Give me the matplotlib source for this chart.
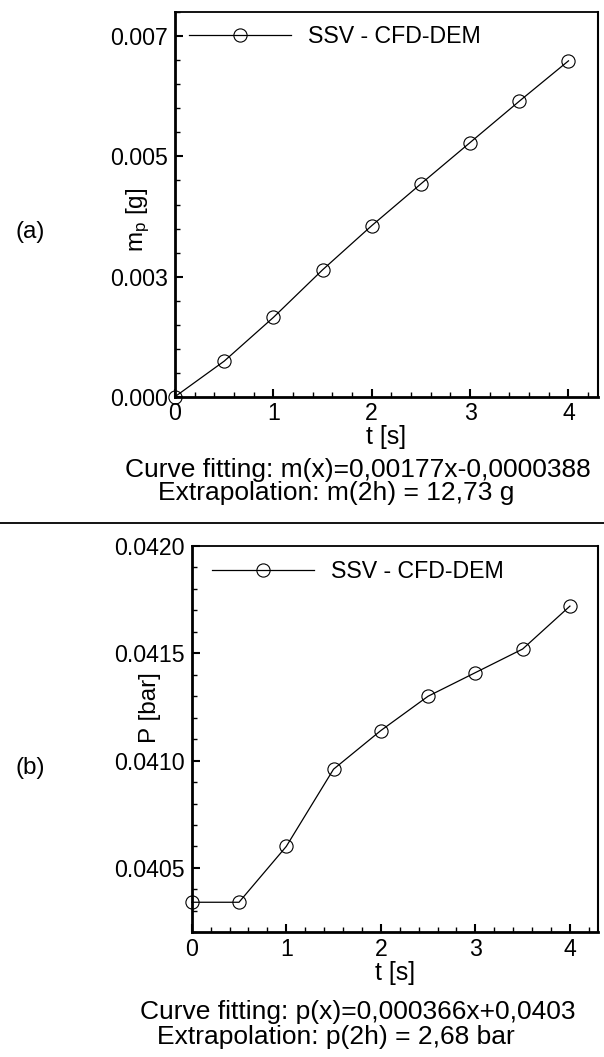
import numpy as np
import matplotlib
matplotlib.use("Agg")
import matplotlib.pyplot as plt
from matplotlib.ticker import MultipleLocator
from matplotlib.lines import Line2D

plt.rcParams['font.family'] = ['Liberation Sans', 'DejaVu Sans']
plt.rcParams['mathtext.default'] = 'regular'

# data
t = [0.0, 0.5, 1.0, 1.5, 2.0, 2.5, 3.0, 3.5, 4.0]
m_p = [0.0, 0.00074, 0.00165, 0.00264, 0.00356, 0.00443, 0.00529, 0.00615, 0.00699]
p = [0.04034, 0.04034, 0.04060, 0.04096, 0.04114, 0.04130, 0.04141, 0.04152, 0.04172]

m_ticks = [0.0, 0.0025, 0.005, 0.0075]
m_ticklabels = ["0.000", "0.003", "0.005", "0.007"]
p_ticks = [0.0405, 0.0410, 0.0415, 0.0420]
p_ticklabels = ["0.0405", "0.0410", "0.0415", "0.0420"]
x_ticks = [0, 1, 2, 3, 4]

legend_label = "SSV - CFD-DEM"
fit_a = "Curve fitting: m(x)=0,00177x-0,0000388"
extra_a = "Extrapolation: m(2h) = 12,73 g"
fit_b = "Curve fitting: p(x)=0,000366x+0,0403"
extra_b = "Extrapolation: p(2h) = 2,68 bar"

W, H = 604, 1057
fs = 16.7      # tick labels, legend
fs_note = 19   # fitting notes
fs_lab = 17.5  # axis labels, panel letters

fig = plt.figure(figsize=(W / 100, H / 100), dpi=100)


def px(x, y):
    return x / W, 1 - y / H


def make_axes(left, top, right, bottom):
    return fig.add_axes([left / W, 1 - bottom / H, (right - left) / W, (bottom - top) / H])


def style(ax):
    ax.tick_params(which='both', direction='in', labelsize=fs, top=False, right=False)
    ax.tick_params(which='major', length=6, width=1.5)
    ax.tick_params(which='minor', length=3.5, width=1)
    ax.tick_params(axis='y', pad=5)
    ax.tick_params(axis='x', pad=4)
    ax.spines['left'].set_linewidth(2)
    ax.spines['bottom'].set_linewidth(2)
    ax.spines['top'].set_linewidth(1.3)
    ax.spines['right'].set_linewidth(1.5)
    ax.set_xlim(0, 4.3)
    ax.set_xticks(x_ticks)
    ax.xaxis.set_minor_locator(MultipleLocator(0.2))
    ax.set_xlabel("t [s]", fontsize=18, labelpad=0)


def add_legend(ax, x, y):
    h = Line2D([], [], color='k', lw=0.9, marker='o', markersize=9.5,
               markerfacecolor='none', markeredgecolor='k', markeredgewidth=0.8)
    ax.legend([h], [legend_label], loc='upper left', bbox_to_anchor=(x, y),
              frameon=False, fontsize=fs, handlelength=4.4, handletextpad=0.75,
              borderpad=0, borderaxespad=0)


# (a)
ax1 = make_axes(175, 12.3, 598, 396.7)
ax1.plot(t, m_p, color='k', lw=0.9, marker='o', markersize=9.5,
         markerfacecolor='none', markeredgecolor='k', markeredgewidth=0.8, clip_on=False)
ax1.set_ylim(0, 0.008)
ax1.set_yticks(m_ticks)
ax1.set_yticklabels(m_ticklabels)
ax1.yaxis.set_minor_locator(MultipleLocator(0.0005))
style(ax1)
ax1.set_ylabel("m$_p$ [g]", fontsize=fs_lab)
ax1.yaxis.set_label_coords(-0.055, 0.46)
add_legend(ax1, 0.033, 0.966)

# (b)
ax2 = make_axes(191.7, 546, 598.3, 932.3)
ax2.plot(t, p, color='k', lw=0.9, marker='o', markersize=9.5,
         markerfacecolor='none', markeredgecolor='k', markeredgewidth=0.8, clip_on=False)
ax2.set_ylim(0.0402, 0.0420)
ax2.set_yticks(p_ticks)
ax2.set_yticklabels(p_ticklabels)
ax2.yaxis.set_minor_locator(MultipleLocator(0.0001))
style(ax2)
ax2.set_ylabel("P [bar]", fontsize=fs_lab)
ax2.yaxis.set_label_coords(-0.075, 0.583)
add_legend(ax2, 0.049, 0.964)

# panel letters and notes
fig.text(*px(30, 232), "(a)", fontsize=fs_lab, ha='center', va='center')
fig.text(*px(30, 768), "(b)", fontsize=fs_lab, ha='center', va='center')
fig.text(*px(358, 470), fit_a, fontsize=fs_note, ha='center', va='center')
fig.text(*px(336, 493), extra_a, fontsize=fs_note, ha='center', va='center')
fig.text(*px(358, 1012), fit_b, fontsize=fs_note, ha='center', va='center')
fig.text(*px(336, 1037), extra_b, fontsize=fs_note, ha='center', va='center')

fig.add_artist(Line2D([0, 1], [1 - 522.7 / H] * 2, color='k', lw=1.3, transform=fig.transFigure))

fig.savefig("out.png", dpi=100)
